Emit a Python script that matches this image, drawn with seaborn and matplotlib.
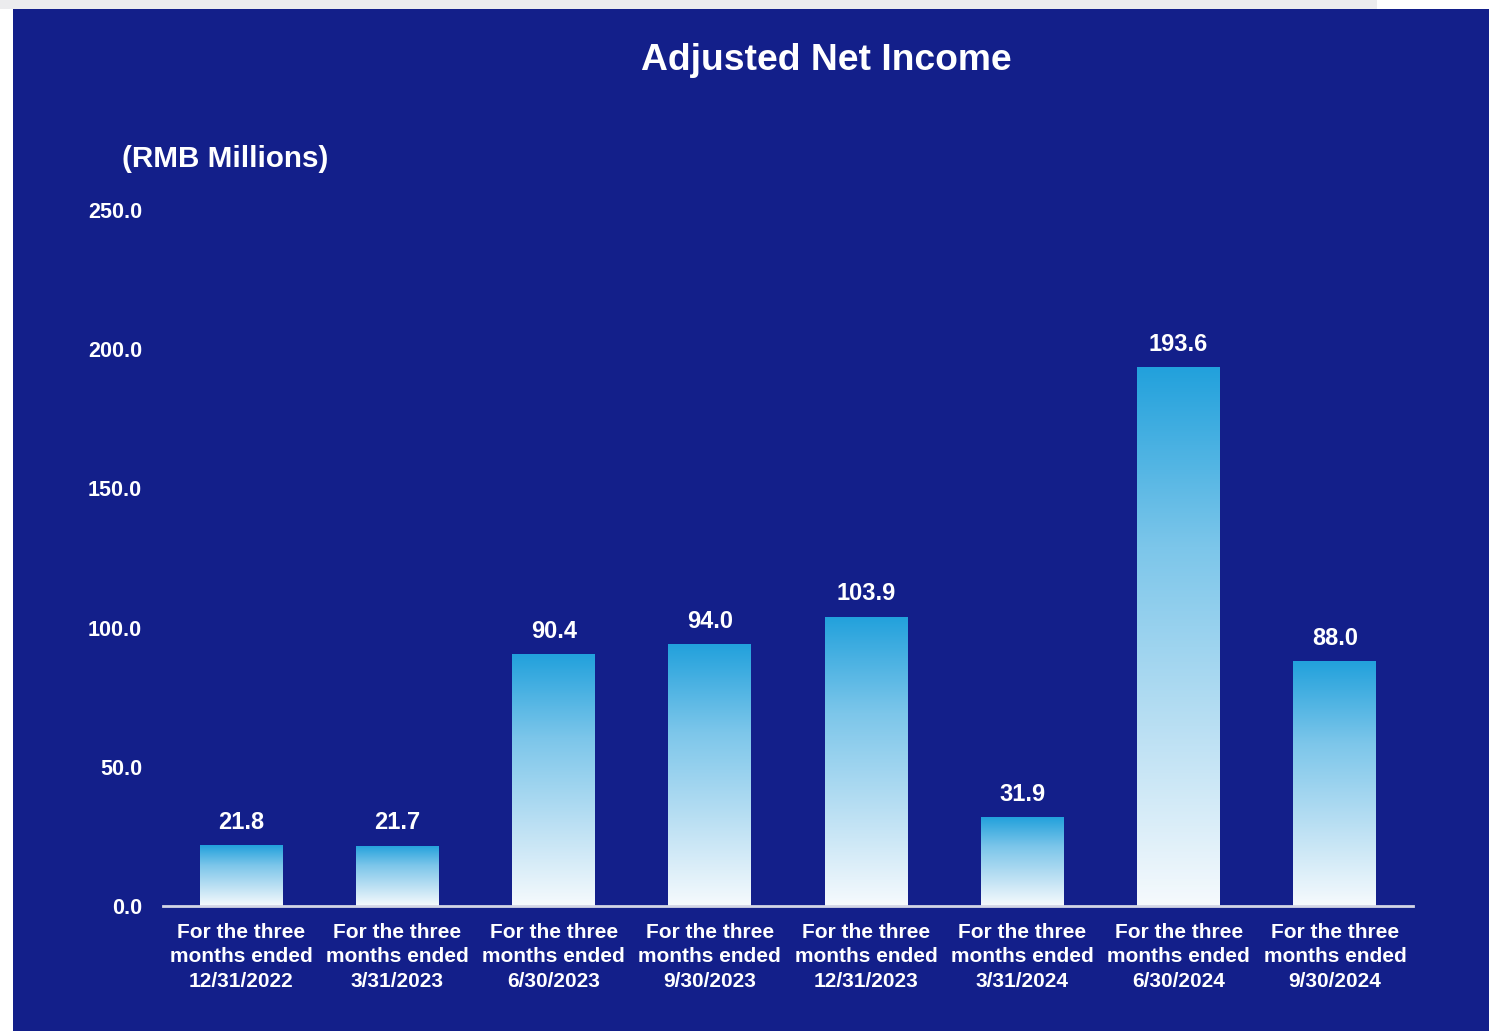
import numpy as np
import pandas as pd
import matplotlib
matplotlib.use("Agg")
import matplotlib.pyplot as plt
from matplotlib.colors import LinearSegmentedColormap
from matplotlib.patches import Rectangle
import seaborn as sns

# Quarterly adjusted net income, RMB millions
periods = ["12/31/2022", "3/31/2023", "6/30/2023", "9/30/2023",
           "12/31/2023", "3/31/2024", "6/30/2024", "9/30/2024"]
values = [21.8, 21.7, 90.4, 94.0, 103.9, 31.9, 193.6, 88.0]
y_ticks = [0.0, 50.0, 100.0, 150.0, 200.0, 250.0]

labels = [f"For the three\nmonths ended\n{p}" for p in periods]
df = pd.DataFrame({"period": labels, "value": values})

NAVY = "#131f8a"
sns.set_theme(style="white")
plt.rcParams["font.family"] = ["Liberation Sans", "DejaVu Sans"]

W, H = 1489, 1031
fig = plt.figure(figsize=(W / 100, H / 100), dpi=100, facecolor="white")

# page background: grey strip on top, navy panel (drawn beneath the axes)
fig.patches.append(Rectangle((0, 1 - 9 / H), 1377 / W, 9 / H, transform=fig.transFigure,
                             facecolor="#ececee", edgecolor="none", zorder=-5))
fig.patches.append(Rectangle((13 / W, 0), 1 - 13 / W, 1 - 9 / H, transform=fig.transFigure,
                             facecolor=NAVY, edgecolor="none", zorder=-5))

ax = fig.add_axes([163 / W, 1 - 906 / H, 1250 / W, (906 - 210) / H])
ax.set_facecolor("none")

sns.barplot(data=df, x="period", y="value", ax=ax, color="#22a1dc", width=0.53,
            saturation=1, edgecolor="none")

# vertical blue-to-white gradient inside each bar
cmap = LinearSegmentedColormap.from_list("barfade", ["#f6fafd", "#b9dff3", "#7cc6ea", "#22a1dc"])
grad = np.linspace(0, 1, 256).reshape(-1, 1)
for bar in list(ax.patches):
    x0, y0 = bar.get_x(), bar.get_y()
    w, h = bar.get_width(), bar.get_height()
    im = ax.imshow(grad, cmap=cmap, origin="lower", aspect="auto",
                   extent=[x0, x0 + w, y0, y0 + h], zorder=2)
    im.set_clip_path(bar)
    bar.set_facecolor("none")

ax.set_xlim(-0.5, len(values) - 0.5)
ax.set_ylim(0, 250)

# value labels above bars
for i, v in enumerate(values):
    ax.text(i, v + 4.1, f"{v:.1f}", ha="center", va="bottom", color="white",
            fontsize=17, fontweight="bold")

ax.set_yticks(y_ticks)
ax.set_yticklabels([f"{t:.1f}" for t in y_ticks])
ax.tick_params(axis="y", length=0, pad=15, labelsize=15.5, labelcolor="white")
ax.tick_params(axis="x", length=0, pad=12, labelsize=15, labelcolor="white")
for lab in ax.get_xticklabels():
    lab.set_fontweight("bold")
    lab.set_linespacing(1.38)
for lab in ax.get_yticklabels():
    lab.set_fontweight("bold")

ax.set_xlabel("")
ax.set_ylabel("")
for side in ["top", "right", "left"]:
    ax.spines[side].set_visible(False)
ax.spines["bottom"].set_color("#d3d6e6")
ax.spines["bottom"].set_linewidth(2)

fig.text(826 / W, 1 - 61 / H, "Adjusted Net Income", ha="center", va="center",
         color="white", fontsize=26.8, fontweight="bold")
fig.text(122 / W, 1 - 159 / H, "(RMB Millions)", ha="left", va="center",
         color="white", fontsize=21.3, fontweight="bold")

fig.savefig("out.png", dpi=100, facecolor=fig.get_facecolor())
